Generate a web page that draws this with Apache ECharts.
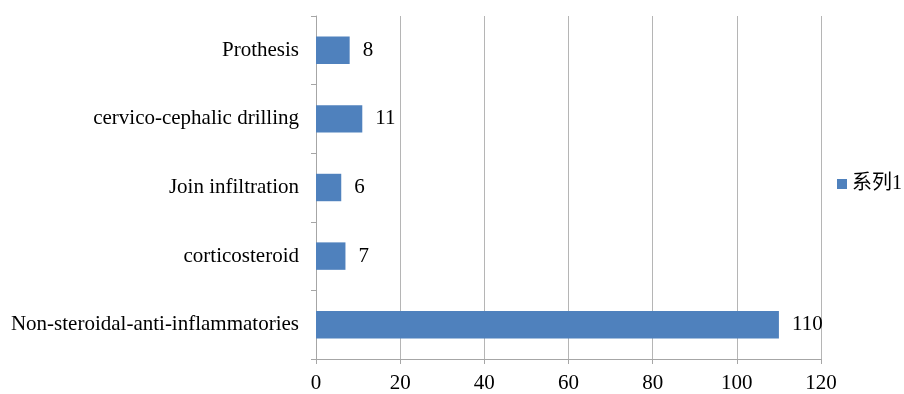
<!DOCTYPE html>
<html>
<head>
<meta charset="utf-8">
<script src="https://cdn.jsdelivr.net/npm/echarts@6/dist/echarts.min.js"></script>
<style>
  html, body { margin: 0; padding: 0; background: #fff; }
  #chart { width: 904px; height: 394px; }
</style>
</head>
<body>
<div id="chart"></div>
<script>
// Treatment categories, listed bottom to top
const categories = [
  'Non-steroidal-anti-inflammatories',
  'corticosteroid',
  'Join infiltration',
  'cervico-cephalic drilling',
  'Prothesis'
];
const seriesName = '系列1';
const values = [110, 7, 6, 11, 8];
const xTicks = { min: 0, max: 120, interval: 20 };

const FONT = '"Liberation Serif", "Times New Roman", "Noto Sans CJK SC", serif';
const AXIS_GREY = '#a6a6a6';

const chart = echarts.init(document.getElementById('chart'), null, { renderer: 'canvas' });
chart.setOption({
  animation: false,
  backgroundColor: '#ffffff',
  textStyle: { fontFamily: FONT },
  grid: { left: 316, right: 83, top: 16, bottom: 35, containLabel: false },
  legend: {
    show: true,
    orient: 'vertical',
    left: 832,
    top: 169,
    itemWidth: 10,
    itemHeight: 10,
    itemGap: 5,
    icon: 'rect',
    textStyle: { fontFamily: FONT, fontSize: 20, color: '#000' },
    data: [seriesName]
  },
  xAxis: {
    type: 'value',
    min: xTicks.min,
    max: xTicks.max,
    interval: xTicks.interval,
    axisLine: { show: true, lineStyle: { color: AXIS_GREY, width: 1 } },
    axisTick: { show: true, length: 5, lineStyle: { color: AXIS_GREY } },
    axisLabel: { color: '#000', fontSize: 21, fontFamily: FONT, margin: 14 },
    splitLine: { show: true, lineStyle: { color: '#b5b5b5', width: 1 } }
  },
  yAxis: {
    type: 'category',
    data: categories,
    axisLine: { show: true, lineStyle: { color: AXIS_GREY, width: 1 } },
    axisTick: { show: true, length: 5, alignWithLabel: false, lineStyle: { color: AXIS_GREY } },
    axisLabel: { color: '#000', fontSize: 21, fontFamily: FONT, margin: 17 },
    splitLine: { show: false }
  },
  series: [{
    name: seriesName,
    type: 'bar',
    data: values,
    barCategoryGap: '60%',
    itemStyle: { color: '#4f81bd' },
    label: {
      show: true,
      position: 'right',
      distance: 13,
      color: '#000',
      fontSize: 21,
      fontFamily: FONT
    }
  }]
});
</script>
</body>
</html>
